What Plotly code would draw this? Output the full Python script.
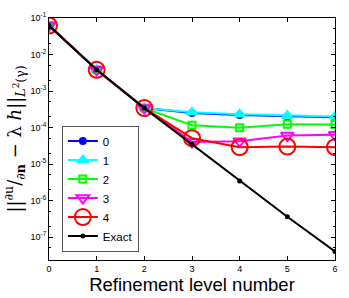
import plotly.graph_objects as go

levels = [0, 1, 2, 3, 4, 5, 6]
err0 = [0.062, 0.0038, 3.4e-4, 2.5e-4, 2.2e-4, 2.0e-4, 1.9e-4]
err1 = [0.062, 0.0038, 3.4e-4, 2.6e-4, 2.3e-4, 2.1e-4, 2.0e-4]
err2 = [0.062, 0.0038, 3.4e-4, 1.15e-4, 9.8e-5, 1.22e-4, 1.2e-4]
err3 = [0.062, 0.0038, 3.4e-4, 4.0e-5, 4.2e-5, 6.0e-5, 6.3e-5]
err4 = [0.062, 0.0038, 3.4e-4, 5.1e-5, 2.9e-5, 3.0e-5, 2.9e-5]
exact = [0.062, 0.0038, 3.4e-4, 3.5e-5, 3.4e-6, 3.6e-7, 4.0e-8]
ytick_vals = [1e-7, 1e-6, 1e-5, 1e-4, 1e-3, 1e-2, 1e-1]
ytick_text = ["10<sup>-7</sup>", "10<sup>-6</sup>", "10<sup>-5</sup>", "10<sup>-4</sup>",
              "10<sup>-3</sup>", "10<sup>-2</sup>", "10<sup>-1</sup>"]

series = [
    ("0", err0, "#0000ff", "circle", 6),
    ("1", err1, "#00ffff", "triangle-up", 9),
    ("2", err2, "#00ff00", "square-open", 7),
    ("3", err3, "#ff00ff", "triangle-down-open", 11),
    ("4", err4, "#ff0000", "circle-open", 16),
    ("Exact", exact, "#000000", "circle", 3),
]

fig = go.Figure()
for name, vals, col, sym, sz in series:
    fig.add_trace(go.Scatter(
        x=levels, y=vals, name=name, mode="lines+markers",
        line=dict(color=col, width=2),
        marker=dict(symbol=sym, size=sz, color=col, line=dict(color=col, width=2)),
    ))

axis_common = dict(showline=True, linecolor="black", linewidth=1, mirror="ticks",
                   ticks="inside", ticklen=4, tickcolor="black", showgrid=False,
                   zeroline=False, tickfont=dict(family="Liberation Sans", size=9, color="black"))

fig.update_layout(
    width=349, height=298, autosize=False,
    margin=dict(l=49, r=13, t=11, b=35),
    paper_bgcolor="white", plot_bgcolor="white",
    xaxis=dict(range=[0, 6], tickvals=levels, **axis_common,
               title=dict(text="Refinement level number", standoff=0,
                          font=dict(family="Liberation Sans", size=18.5, color="black"))),
    yaxis=dict(type="log", range=[-7.63, -1], tickvals=ytick_vals, ticktext=ytick_text,
               minor=dict(ticks="inside", ticklen=2, tickcolor="black"),
               **axis_common,
               title=dict(text="||<sup>∂u</sup>/<sub>∂<b>n</b></sub> − λ <i>h</i>||<sub><i>L</i><sup>2</sup>(γ)</sub>",
                          standoff=4,
                          font=dict(family="DejaVu Serif", size=18, color="black"))),
    legend=dict(x=0.045, y=0.035, xanchor="left", yanchor="bottom",
                bgcolor="white", bordercolor="#555555", borderwidth=1,
                font=dict(family="Liberation Sans", size=11.5, color="black"),
                itemwidth=30, tracegroupgap=0),
    showlegend=True,
)

fig.write_html("out.html", config={"displayModeBar": False},
               post_script="document.body.style.margin='0';document.body.style.padding='0';")
